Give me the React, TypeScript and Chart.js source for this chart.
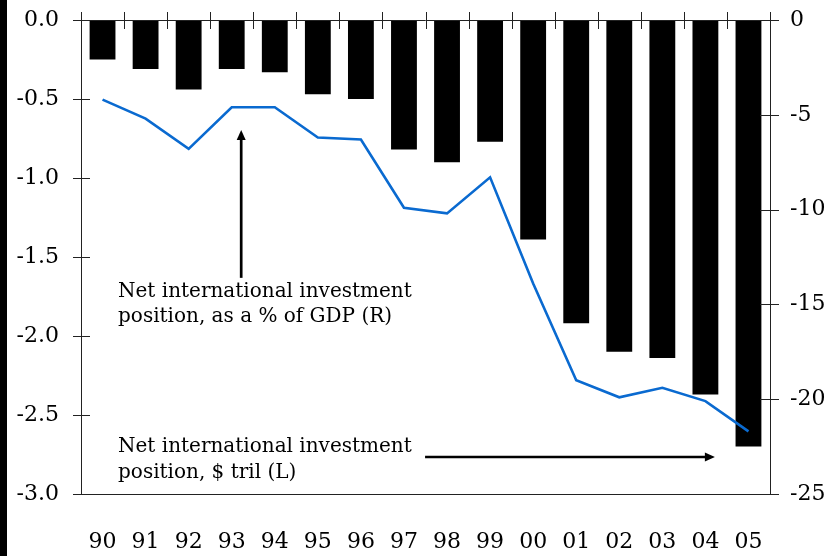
import { useEffect, useRef } from 'react';
import { Chart, registerables } from 'chart.js';

Chart.register(...registerables);

const years = ['90', '91', '92', '93', '94', '95', '96', '97', '98', '99', '00', '01', '02', '03', '04', '05'];
// Net international investment position, $ tril (left axis)
const nipTril = [-0.25, -0.31, -0.44, -0.31, -0.33, -0.47, -0.5, -0.82, -0.9, -0.77, -1.39, -1.92, -2.1, -2.14, -2.37, -2.7];
// Net international investment position, % of GDP (right axis)
const nipPctGdp = [-4.2, -5.2, -6.8, -4.6, -4.6, -6.2, -6.3, -9.9, -10.2, -8.3, -13.9, -19.0, -19.9, -19.4, -20.1, -21.7];

const leftMin = -3;
const leftMax = 0;
const leftStep = 0.5;
const rightMin = -25;
const rightMax = 0;
const rightStep = 5;

const annoPctLines = ['Net international investment', 'position, as a % of GDP (R)'];
const annoTrilLines = ['Net international investment', 'position, $ tril (L)'];

const FONT = "'DejaVu Serif', serif";
const AXIS = '#222';

function arrow(ctx: CanvasRenderingContext2D, x1: number, y1: number, x2: number, y2: number, w: number) {
  const ang = Math.atan2(y2 - y1, x2 - x1);
  const hl = 10;
  const hw = 4.5;
  ctx.save();
  ctx.strokeStyle = '#000';
  ctx.fillStyle = '#000';
  ctx.lineWidth = w;
  ctx.beginPath();
  ctx.moveTo(x1, y1);
  ctx.lineTo(x2 - Math.cos(ang) * hl * 0.8, y2 - Math.sin(ang) * hl * 0.8);
  ctx.stroke();
  ctx.beginPath();
  ctx.moveTo(x2, y2);
  ctx.lineTo(x2 - Math.cos(ang) * hl - Math.sin(ang) * hw, y2 - Math.sin(ang) * hl + Math.cos(ang) * hw);
  ctx.lineTo(x2 - Math.cos(ang) * hl + Math.sin(ang) * hw, y2 - Math.sin(ang) * hl - Math.cos(ang) * hw);
  ctx.closePath();
  ctx.fill();
  ctx.restore();
}

const decor = {
  id: 'decor',
  beforeDraw(chart: any) {
    const { ctx, width, height } = chart;
    ctx.save();
    ctx.fillStyle = '#fff';
    ctx.fillRect(0, 0, width, height);
    ctx.fillStyle = '#000';
    ctx.fillRect(0, 0, 7, height);
    ctx.restore();
  },
  afterDraw(chart: any) {
    const { ctx, chartArea } = chart;
    const xs = chart.scales.x;
    const yl = chart.scales.yL;
    const yr = chart.scales.yR;
    ctx.save();
    ctx.strokeStyle = AXIS;
    ctx.lineWidth = 1;
    // top (zero) line
    ctx.beginPath();
    ctx.moveTo(chartArea.left, Math.round(chartArea.top) + 0.5);
    ctx.lineTo(chartArea.right, Math.round(chartArea.top) + 0.5);
    ctx.stroke();
    // category boundary ticks on the zero line
    for (let i = 0; i <= years.length; i++) {
      const x = Math.round(xs.getPixelForValue(i - 0.5)) + 0.5;
      ctx.beginPath();
      ctx.moveTo(x, chartArea.top - 8);
      ctx.lineTo(x, chartArea.top + 9);
      ctx.stroke();
    }
    // left ticks
    yl.ticks.forEach((_t: any, i: number) => {
      const y = Math.round(yl.getPixelForTick(i)) + 0.5;
      ctx.beginPath();
      ctx.moveTo(chartArea.left - 8, y);
      ctx.lineTo(chartArea.left + 9, y);
      ctx.stroke();
    });
    // right ticks
    yr.ticks.forEach((_t: any, i: number) => {
      const y = Math.round(yr.getPixelForTick(i)) + 0.5;
      ctx.beginPath();
      ctx.moveTo(chartArea.right - 10, y);
      ctx.lineTo(chartArea.right + 9, y);
      ctx.stroke();
    });
    ctx.restore();

    // annotations
    ctx.save();
    ctx.fillStyle = '#000';
    ctx.font = `20px ${FONT}`;
    ctx.textAlign = 'left';
    ctx.textBaseline = 'alphabetic';
    const tx = xs.getPixelForValue(0.36);
    ctx.fillText(annoPctLines[0], tx, yr.getPixelForValue(-14.6));
    ctx.fillText(annoPctLines[1], tx, yr.getPixelForValue(-15.95));
    ctx.fillText(annoTrilLines[0], tx, yr.getPixelForValue(-22.77));
    ctx.fillText(annoTrilLines[1], tx, yr.getPixelForValue(-24.15));
    ctx.restore();

    const ax = xs.getPixelForValue(3.22);
    arrow(ctx, ax, yr.getPixelForValue(-13.6), ax, yr.getPixelForValue(-5.8), 2.7);
    const ay = yr.getPixelForValue(-23.05);
    arrow(ctx, xs.getPixelForValue(7.49), ay, xs.getPixelForValue(14.22), ay, 2.4);
  },
};

function fitY(width: number) {
  return (s: any) => {
    s.width = width;
    s.paddingTop = 0;
    s.paddingBottom = 0;
  };
}

export default function App() {
  const ref = useRef<HTMLCanvasElement | null>(null);
  useEffect(() => {
    if (!ref.current) return;
    const chart = new Chart(ref.current, {
      type: 'bar',
      data: {
        labels: years,
        datasets: [
          {
            type: 'line',
            label: 'Net international investment position, % of GDP (R)',
            data: nipPctGdp,
            yAxisID: 'yR',
            borderColor: '#0a6ad0',
            borderWidth: 2.6,
            pointRadius: 0,
            tension: 0,
            fill: false,
            order: 0,
          } as any,
          {
            type: 'bar',
            label: 'Net international investment position, $ tril (L)',
            data: nipTril,
            yAxisID: 'yL',
            backgroundColor: '#000',
            borderWidth: 0,
            barPercentage: 0.6,
            categoryPercentage: 1,
            order: 1,
          },
        ],
      },
      options: {
        responsive: false,
        animation: false,
        maintainAspectRatio: false,
        layout: { padding: { top: 20, left: 0, right: 0, bottom: 0 } },
        plugins: { legend: { display: false }, tooltip: { enabled: false } },
        scales: {
          x: {
            type: 'category',
            position: 'bottom',
            offset: true,
            grid: { display: false, drawTicks: false },
            border: { display: true, color: AXIS, width: 1 },
            ticks: { color: '#000', font: { size: 22, family: FONT }, padding: 35, maxRotation: 0, autoSkip: false },
            afterFit(s: any) {
              s.height = 62;
              s.paddingLeft = 0;
              s.paddingRight = 0;
            },
          },
          yL: {
            type: 'linear',
            position: 'left',
            min: leftMin,
            max: leftMax,
            grid: { display: false, drawTicks: false },
            border: { display: true, color: AXIS, width: 1 },
            ticks: {
              stepSize: leftStep,
              color: '#000',
              font: { size: 22, family: FONT },
              padding: 22,
              callback: (v: any) => Number(v).toFixed(1),
            },
            afterFit: fitY(81),
          },
          yR: {
            type: 'linear',
            position: 'right',
            min: rightMin,
            max: rightMax,
            grid: { display: false, drawTicks: false },
            border: { display: true, color: AXIS, width: 1 },
            ticks: {
              stepSize: rightStep,
              color: '#000',
              font: { size: 22, family: FONT },
              padding: 20,
              callback: (v: any) => String(v),
            },
            afterFit: fitY(56),
          },
        },
      },
      plugins: [decor],
    });
    return () => chart.destroy();
  }, []);
  return (
    <div style={{ position: 'absolute', left: 0, top: 0, width: 826, height: 556, background: '#fff' }}>
      <canvas ref={ref} width={826} height={556} style={{ display: 'block', width: 826, height: 556 }} />
    </div>
  );
}
